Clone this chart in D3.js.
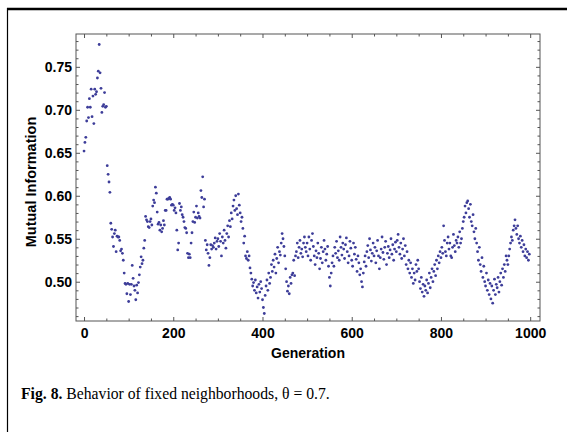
<!DOCTYPE html>
<html>
<head>
<meta charset="utf-8">
<script src="https://cdn.jsdelivr.net/npm/d3@7"></script>
<style>
  html, body { margin: 0; padding: 0; background: #fff; }
  svg { display: block; }
</style>
</head>
<body>
<svg id="chart" width="567" height="432"></svg>
<script>
// ---- data ----
const genStep = 2; // one value every 2 generations, starting at 0
const miValues = [
  // 0-48
  0.652,0.662,0.668,0.687,0.703,0.691,0.713,0.703,0.724,0.692,0.716,0.684,0.724,0.718,0.721,0.737,0.745,0.776,0.743,0.725,0.697,0.704,0.706,0.720,0.703,
  // 50-98
  0.704,0.635,0.625,0.616,0.604,0.568,0.561,0.552,0.541,0.556,0.560,0.535,0.553,0.552,0.552,0.548,0.536,0.538,0.533,0.525,0.510,0.498,0.497,0.486,0.498,
  // 100-148
  0.477,0.497,0.485,0.497,0.519,0.504,0.495,0.490,0.479,0.496,0.487,0.499,0.508,0.517,0.529,0.521,0.525,0.539,0.548,0.576,0.572,0.570,0.564,0.563,0.570,
  // 150-198
  0.573,0.566,0.588,0.595,0.592,0.610,0.603,0.581,0.567,0.569,0.560,0.566,0.558,0.562,0.571,0.566,0.583,0.583,0.596,0.596,0.597,0.598,0.596,0.589,0.590,
  // 200-248
  0.589,0.583,0.586,0.580,0.560,0.537,0.545,0.591,0.583,0.587,0.578,0.575,0.570,0.563,0.562,0.557,0.533,0.528,0.532,0.528,0.545,0.557,0.570,0.581,0.569,
  // 250-298
  0.575,0.588,0.574,0.580,0.576,0.574,0.606,0.598,0.622,0.587,0.596,0.548,0.537,0.543,0.533,0.519,0.528,0.543,0.538,0.542,0.540,0.545,0.551,0.538,0.547,
  // 300-348
  0.550,0.541,0.556,0.547,0.530,0.552,0.545,0.560,0.548,0.539,0.556,0.565,0.552,0.571,0.564,0.580,0.573,0.588,0.595,0.583,0.600,0.585,0.578,0.602,0.589,
  // 350-398
  0.580,0.570,0.575,0.562,0.545,0.553,0.530,0.527,0.535,0.525,0.530,0.516,0.510,0.503,0.495,0.499,0.490,0.502,0.487,0.494,0.481,0.497,0.488,0.500,0.492,
  // 400-448
  0.479,0.470,0.463,0.484,0.495,0.502,0.490,0.510,0.498,0.505,0.520,0.512,0.525,0.517,0.532,0.510,0.527,0.540,0.522,0.535,0.531,0.545,0.556,0.550,0.541,
  // 450-498
  0.530,0.515,0.500,0.489,0.495,0.486,0.505,0.498,0.508,0.510,0.525,0.507,0.530,0.535,0.545,0.528,0.540,0.548,0.533,0.538,0.529,0.545,0.552,0.540,0.535,
  // 500-548
  0.545,0.530,0.552,0.538,0.525,0.548,0.556,0.541,0.530,0.520,0.536,0.528,0.545,0.533,0.515,0.527,0.540,0.522,0.535,0.548,0.538,0.525,0.532,0.541,0.518,
  // 550-598
  0.505,0.495,0.510,0.522,0.530,0.518,0.540,0.533,0.547,0.528,0.536,0.525,0.552,0.540,0.531,0.545,0.538,0.527,0.543,0.551,0.535,0.522,0.530,0.547,0.539,
  // 600-648
  0.525,0.518,0.545,0.532,0.540,0.526,0.512,0.530,0.522,0.508,0.515,0.500,0.494,0.510,0.523,0.530,0.518,0.535,0.542,0.528,0.550,0.537,0.524,0.533,0.545,
  // 650-698
  0.530,0.540,0.522,0.536,0.548,0.530,0.515,0.528,0.538,0.552,0.534,0.526,0.540,0.547,0.520,0.533,0.541,0.528,0.537,0.550,0.532,0.543,0.525,0.538,0.546,
  // 700-748
  0.535,0.548,0.555,0.540,0.532,0.545,0.527,0.538,0.550,0.530,0.542,0.520,0.535,0.515,0.525,0.510,0.522,0.505,0.515,0.498,0.510,0.502,0.520,0.512,0.525,
  // 750-798
  0.515,0.500,0.492,0.505,0.488,0.497,0.483,0.495,0.490,0.502,0.487,0.498,0.510,0.493,0.505,0.515,0.500,0.512,0.520,0.507,0.525,0.515,0.530,0.522,0.535,
  // 800-848
  0.528,0.540,0.533,0.565,0.548,0.535,0.530,0.545,0.552,0.538,0.545,0.530,0.528,0.540,0.555,0.542,0.535,0.548,0.545,0.552,0.540,0.558,0.545,0.550,0.562,
  // 850-898
  0.570,0.575,0.588,0.580,0.592,0.594,0.585,0.575,0.590,0.570,0.565,0.578,0.558,0.550,0.562,0.545,0.535,0.525,0.540,0.520,0.512,0.528,0.505,0.518,0.500,
  // 900-948
  0.495,0.510,0.490,0.502,0.485,0.498,0.480,0.495,0.475,0.490,0.503,0.485,0.497,0.493,0.505,0.488,0.500,0.510,0.496,0.515,0.505,0.520,0.512,0.530,0.525,
  // 950-998
  0.520,0.530,0.538,0.545,0.552,0.548,0.560,0.565,0.572,0.562,0.555,0.565,0.550,0.545,0.553,0.540,0.548,0.535,0.543,0.530,0.538,0.528,0.535,0.525,0.532
];
const xMajorTicks = [0, 200, 400, 600, 800, 1000];
const yMajorTicks = [0.50, 0.55, 0.60, 0.65, 0.70, 0.75];
const xLabel = "Generation";
const yLabel = "Mutual Information";
const captionBold = "Fig. 8.";
const captionText = " Behavior of fixed neighborhoods, \u03b8 = 0.7.";

// ---- layout ----
const svg = d3.select("#chart");
const pLeft = 76, pRight = 540, pTop = 34, pBottom = 321;
const x = d3.scaleLinear().domain([-18, 1022]).range([pLeft, pRight]);
const y = d3.scaleLinear().domain([0.4543, 0.7882]).range([pBottom, pTop]);

const frameColor = "#555";
const labelFont = "'Liberation Sans', Arial, Helvetica, sans-serif";

// outer page frame
svg.append("line").attr("x1", 7).attr("x2", 567).attr("y1", 9).attr("y2", 9)
  .attr("stroke", "#000").attr("stroke-width", 2.6);
svg.append("line").attr("x1", 7.5).attr("x2", 7.5).attr("y1", 8).attr("y2", 432)
  .attr("stroke", "#000").attr("stroke-width", 1.2);

const xMinor = d3.range(0, 1001, 50).filter(v => !xMajorTicks.includes(v));
const yMinor = d3.range(46, 79).map(v => v / 100).filter(v => !yMajorTicks.some(t => Math.abs(t - v) < 1e-9));

function styleAxis(g) {
  g.select(".domain").remove();
  g.selectAll(".tick line").attr("stroke", frameColor).attr("stroke-width", 1);
  g.selectAll(".tick text").attr("fill", "#000").attr("font-family", labelFont)
    .attr("font-weight", "bold").attr("font-size", 14);
}

// bottom
svg.append("g").attr("transform", `translate(0,${pBottom})`)
  .call(d3.axisBottom(x).tickValues(xMajorTicks).tickSize(-4).tickPadding(7).tickFormat(d3.format("d")))
  .call(styleAxis);
svg.append("g").attr("transform", `translate(0,${pBottom})`)
  .call(d3.axisBottom(x).tickValues(xMinor).tickSize(-2.5).tickFormat(""))
  .call(styleAxis);
// top
svg.append("g").attr("transform", `translate(0,${pTop})`)
  .call(d3.axisTop(x).tickValues(xMajorTicks).tickSize(-4).tickFormat(""))
  .call(styleAxis);
svg.append("g").attr("transform", `translate(0,${pTop})`)
  .call(d3.axisTop(x).tickValues(xMinor).tickSize(-2.5).tickFormat(""))
  .call(styleAxis);
// left
svg.append("g").attr("transform", `translate(${pLeft},0)`)
  .call(d3.axisLeft(y).tickValues(yMajorTicks).tickSize(-4).tickPadding(4).tickFormat(d3.format(".2f")))
  .call(styleAxis);
svg.append("g").attr("transform", `translate(${pLeft},0)`)
  .call(d3.axisLeft(y).tickValues(yMinor).tickSize(-2.5).tickFormat(""))
  .call(styleAxis);
// right
svg.append("g").attr("transform", `translate(${pRight},0)`)
  .call(d3.axisRight(y).tickValues(yMajorTicks).tickSize(-4).tickFormat(""))
  .call(styleAxis);
svg.append("g").attr("transform", `translate(${pRight},0)`)
  .call(d3.axisRight(y).tickValues(yMinor).tickSize(-2.5).tickFormat(""))
  .call(styleAxis);

// plot frame
svg.append("rect").attr("x", pLeft).attr("y", pTop)
  .attr("width", pRight - pLeft).attr("height", pBottom - pTop)
  .attr("fill", "none").attr("stroke", frameColor).attr("stroke-width", 1);

// points
svg.append("g").selectAll("circle").data(miValues).join("circle")
  .attr("cx", (d, i) => x(i * genStep))
  .attr("cy", d => y(d))
  .attr("r", 1.4)
  .attr("fill", "#3d3d99");

// axis titles
svg.append("text").attr("x", 308).attr("y", 358).attr("text-anchor", "middle")
  .attr("font-family", labelFont).attr("font-weight", "bold").attr("font-size", 14)
  .text(xLabel);
svg.append("text").attr("transform", "translate(36,182) rotate(-90)")
  .attr("text-anchor", "middle")
  .attr("font-family", labelFont).attr("font-weight", "bold").attr("font-size", 14.5)
  .text(yLabel);

// caption
const cap = svg.append("text").attr("x", 21).attr("y", 399)
  .attr("font-family", "'Liberation Serif', 'Times New Roman', Times, serif")
  .attr("font-size", 15.7).attr("fill", "#000");
cap.append("tspan").attr("font-weight", "bold").text(captionBold);
cap.append("tspan").text(captionText);
</script>
</body>
</html>
